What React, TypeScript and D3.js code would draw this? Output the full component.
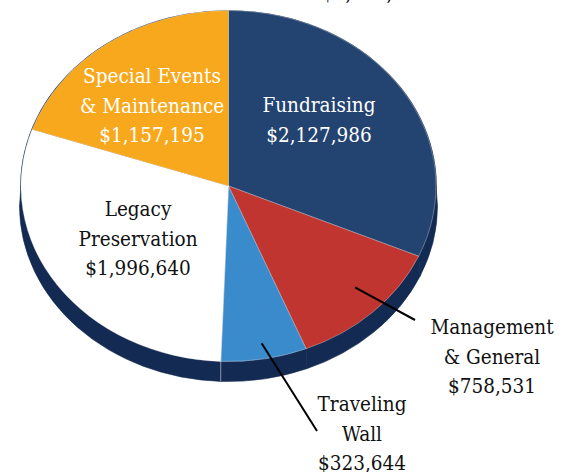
import React from "react";
import * as d3 from "d3";

// ---- data ----
const categories = [
  "Fundraising",
  "Management & General",
  "Traveling Wall",
  "Legacy Preservation",
  "Special Events & Maintenance",
];
const values = [2127986, 758531, 323644, 1996640, 1157195];
const labelLines = [
  ["Fundraising"],
  ["Management", "& General"],
  ["Traveling", "Wall"],
  ["Legacy", "Preservation"],
  ["Special Events", "& Maintenance"],
];

// ---- styles / layout ----
const sliceColors = ["#234371", "#C0352F", "#3A8BCC", "#FFFFFF", "#F7A81D"];
const textColors = ["#FFFFFF", "#111111", "#111111", "#111111", "#FFFFFF"];
const labelPos: [number, number][] = [
  [319, 112],
  [492, 334],
  [362, 411],
  [138, 216],
  [152, 83],
];
const leaderEnd: ([number, number] | null)[] = [null, [415, 320], [317, 431], null, null];
const leaderFrac = [0, 0.84, 0.91, 0, 0];

const W = 568;
const H = 472;
const cx = 228.5;
const cy = 186;
const rx = 207.5;
const ry = 175.5;
const rxB = 209;
const ryB = 175.5;
const depth = 20;
const K = 0.63; // view flattening of slice directions
const sideColor = "#132A52";
const FONT = "'DejaVu Serif Condensed', 'DejaVu Serif', serif";
const FS = 20.5;
const LH = 29.5;

function dirOf(a: number): [number, number] {
  return [Math.sin(a), -K * Math.cos(a)];
}
function rimPoint(a: number): [number, number] {
  const [dx, dy] = dirOf(a);
  const t = 1 / Math.sqrt((dx / rx) ** 2 + (dy / ry) ** 2);
  return [cx + dx * t, cy + dy * t];
}
function paramOf(p: [number, number]) {
  return Math.atan2((p[1] - cy) / ry, (p[0] - cx) / rx);
}
const ptTop = (f: number): [number, number] => [cx + rx * Math.cos(f), cy + ry * Math.sin(f)];
const ptBot = (f: number): [number, number] => [cx + rxB * Math.cos(f), cy + depth + ryB * Math.sin(f)];

export default function App() {
  const pie = d3
    .pie<number>()
    .sort(null)
    .startAngle(0)
    .endAngle(2 * Math.PI)
    .value((d) => d);
  const arcs = pie(values);
  const fmt = d3.format(",");
  const total = d3.sum(values);

  const slices = arcs.map((a, i) => {
    const p0 = rimPoint(a.startAngle);
    const p1 = rimPoint(a.endAngle);
    const f0 = paramOf(p0);
    const f1 = paramOf(p1);
    let span = f1 - f0;
    while (span < 0) span += 2 * Math.PI;
    if (a.endAngle - a.startAngle >= 2 * Math.PI - 1e-9) span = 2 * Math.PI;
    const large = span > Math.PI ? 1 : 0;
    const d = `M${cx},${cy}L${p0[0]},${p0[1]}A${rx},${ry} 0 ${large} 1 ${p1[0]},${p1[1]}Z`;
    const sides: string[] = [];
    for (const off of [-2 * Math.PI, 0, 2 * Math.PI]) {
      const s = Math.max(f0 + off, 0);
      const e = Math.min(f0 + off + span, Math.PI);
      if (e - s > 1e-4) {
        const a0 = ptTop(s), a1 = ptTop(e), b1 = ptBot(e), b0 = ptBot(s);
        sides.push(
          `M${a0[0]},${a0[1]}A${rx},${ry} 0 0 1 ${a1[0]},${a1[1]}L${b1[0]},${b1[1]}A${rxB},${ryB} 0 0 0 ${b0[0]},${b0[1]}Z`
        );
      }
    }
    return { d, sides, p0, f0, i };
  });

  const seamIdx = 3;
  const seamF = slices[seamIdx].f0;
  const seamTop = ptTop(seamF);
  const seamBot = ptBot(seamF);

  const textStyle = { fontFamily: FONT, fontSize: FS, fontStretch: "condensed" as const };

  return (
    <svg width={W} height={H} style={{ position: "absolute", left: 0, top: 0, background: "#fff" }}>
      {/* cut-off title at top */}
      <text x={322} y={0} style={textStyle} fill="#111">
        {"$" + fmt(total)}
      </text>

      {/* side wall */}
      {slices.map((s) =>
        s.sides.map((p, j) => (
          <path key={`side-${s.i}-${j}`} d={p} fill={sideColor} stroke={sideColor} strokeWidth={0.6} />
        ))
      )}
      {seamF > 0 && seamF < Math.PI && (
        <line
          x1={seamTop[0]}
          y1={seamTop[1]}
          x2={seamBot[0]}
          y2={seamBot[1]}
          stroke="#8a97ad"
          strokeWidth={1}
        />
      )}

      {/* top face outline */}
      <ellipse cx={cx} cy={cy} rx={rx + 0.8} ry={ry + 0.3} fill={sideColor} />

      {/* slices */}
      {slices.map((s) => (
        <path
          key={`slice-${s.i}`}
          d={s.d}
          fill={sliceColors[s.i]}
          stroke="#ffffff"
          strokeOpacity={0.55}
          strokeWidth={0.6}
        />
      ))}

      {/* leader lines */}
      {arcs.map((a, i) => {
        const end = leaderEnd[i];
        if (!end) return null;
        const mid = (a.startAngle + a.endAngle) / 2;
        const [dx, dy] = dirOf(mid);
        const t = 1 / Math.sqrt((dx / rx) ** 2 + (dy / ry) ** 2);
        const sx = cx + dx * t * leaderFrac[i];
        const sy = cy + dy * t * leaderFrac[i];
        return (
          <line key={`leader-${i}`} x1={sx} y1={sy} x2={end[0]} y2={end[1]} stroke="#000" strokeWidth={2} />
        );
      })}

      {/* labels */}
      {arcs.map((a, i) => {
        const lines = [...labelLines[i], "$" + fmt(values[i])];
        const [lx, ly] = labelPos[i];
        return (
          <text key={`label-${i}`} x={lx} y={ly} textAnchor="middle" style={textStyle} fill={textColors[i]}>
            {lines.map((t, j) => (
              <tspan key={j} x={lx} y={ly + j * LH}>
                {t}
              </tspan>
            ))}
          </text>
        );
      })}
    </svg>
  );
}
